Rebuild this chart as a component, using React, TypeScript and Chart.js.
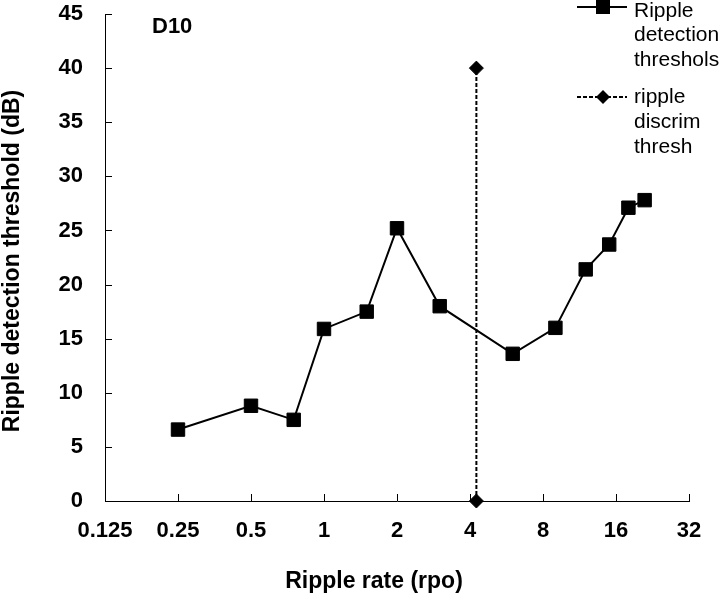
import React, { useEffect, useRef } from 'react';
import { Chart, registerables } from 'chart.js';

Chart.register(...registerables);

// ---- data ----
const rippleRates = [0.25, 0.5, 0.75, 1, 1.5, 2, 3, 6, 9, 12, 15, 18, 21];
const detectionThresholds = [6.6, 8.8, 7.5, 15.9, 17.5, 25.2, 18.0, 13.6, 16.0, 21.4, 23.7, 27.1, 27.8];
const discrimRates = [4.25, 4.25];
const discrimValues = [0, 40];
const xTickValues = [0.125, 0.25, 0.5, 1, 2, 4, 8, 16, 32];
const xTickLabels = ['0.125', '0.25', '0.5', '1', '2', '4', '8', '16', '32'];
const yTickValues = [0, 5, 10, 15, 20, 25, 30, 35, 40, 45];
const detectionLegend = ['Ripple', 'detection', 'threshols'];
const discrimLegend = ['ripple', 'discrim', 'thresh'];
const panelLabel = 'D10';
const xTitle = 'Ripple rate (rpo)';
const yTitle = 'Ripple detection threshold (dB)';

const FONT = '"Liberation Sans", Arial, sans-serif';

const decorPlugin = {
  id: 'decor',
  afterDraw(chart: any) {
    const ctx = chart.ctx as CanvasRenderingContext2D;
    const xs = chart.scales.x;
    const ys = chart.scales.y;
    const area = chart.chartArea;
    ctx.save();
    // inward tick marks
    ctx.strokeStyle = '#000';
    ctx.lineWidth = 1;
    ctx.beginPath();
    yTickValues.forEach((v) => {
      const y = Math.round(ys.getPixelForValue(v)) + 0.5;
      ctx.moveTo(area.left, y);
      ctx.lineTo(area.left + 7, y);
    });
    xTickValues.forEach((v) => {
      const x = Math.round(xs.getPixelForValue(v)) + 0.5;
      ctx.moveTo(x, area.bottom);
      ctx.lineTo(x, area.bottom - 7);
    });
    ctx.stroke();

    // panel label
    ctx.fillStyle = '#000';
    ctx.font = `bold 22px ${FONT}`;
    ctx.textAlign = 'left';
    ctx.textBaseline = 'alphabetic';
    ctx.fillText(panelLabel, 152, 33);

    // axis titles
    ctx.font = `bold 23px ${FONT}`;
    ctx.textAlign = 'center';
    ctx.fillText(xTitle, 374, 588);
    ctx.save();
    ctx.translate(19, 261);
    ctx.rotate(-Math.PI / 2);
    ctx.fillText(yTitle, 0, 0);
    ctx.restore();

    // legend
    const lx0 = 577, lx1 = 627, mx = 603, tx = 634;
    ctx.lineWidth = 2;
    ctx.setLineDash([]);
    ctx.beginPath();
    ctx.moveTo(lx0, 7);
    ctx.lineTo(lx1, 7);
    ctx.stroke();
    ctx.fillRect(mx - 7, 0, 14, 14);
    ctx.setLineDash([4, 2]);
    ctx.beginPath();
    ctx.moveTo(lx0, 97);
    ctx.lineTo(lx1, 97);
    ctx.stroke();
    ctx.setLineDash([]);
    ctx.beginPath();
    ctx.moveTo(mx - 7, 97);
    ctx.lineTo(mx, 90);
    ctx.lineTo(mx + 7, 97);
    ctx.lineTo(mx, 104);
    ctx.closePath();
    ctx.fill();

    ctx.font = `21px ${FONT}`;
    ctx.textAlign = 'left';
    detectionLegend.forEach((t, i) => ctx.fillText(t, tx, 17 + i * 24.3));
    discrimLegend.forEach((t, i) => ctx.fillText(t, tx, 103 + i * 25));
    ctx.restore();
  },
};

export default function App() {
  const ref = useRef<HTMLCanvasElement | null>(null);
  useEffect(() => {
    if (!ref.current) return;
    const chart = new Chart(ref.current, {
      type: 'scatter',
      data: {
        datasets: [
          {
            label: detectionLegend.join(' '),
            data: rippleRates.map((x, i) => ({ x, y: detectionThresholds[i] })),
            showLine: true,
            borderColor: '#000',
            backgroundColor: '#000',
            borderWidth: 2,
            pointStyle: 'rect',
            pointRadius: 9.5,
            pointBorderWidth: 1,
            clip: false,
          },
          {
            label: discrimLegend.join(' '),
            data: discrimRates.map((x, i) => ({ x, y: discrimValues[i] })),
            showLine: true,
            borderColor: '#000',
            backgroundColor: '#000',
            borderWidth: 2,
            borderDash: [4, 2],
            pointStyle: 'rectRot',
            pointRadius: 7,
            pointBorderWidth: 1,
            clip: false,
          },
        ],
      },
      options: {
        responsive: false,
        animation: false,
        events: [],
        devicePixelRatio: 1,
        layout: { padding: { left: 0, right: 31, top: 14, bottom: 0 } },
        plugins: { legend: { display: false }, tooltip: { enabled: false } },
        scales: {
          x: {
            type: 'logarithmic',
            min: 0.125,
            max: 32,
            afterBuildTicks: (s: any) => {
              s.ticks = xTickValues.map((v) => ({ value: v }));
            },
            afterFit: (s: any) => {
              s.height = 95;
              s.paddingLeft = 0;
              s.paddingRight = 0;
              s.paddingTop = 0;
              s.paddingBottom = 0;
            },
            grid: { display: false, drawTicks: false },
            border: { display: true, color: '#000', width: 1 },
            ticks: {
              autoSkip: false,
              maxRotation: 0,
              padding: 17,
              color: '#000',
              font: { family: FONT, size: 22, weight: 'bold' },
              callback: (v: any) => {
                const i = xTickValues.indexOf(Number(v));
                return i >= 0 ? xTickLabels[i] : '';
              },
            },
          },
          y: {
            type: 'linear',
            min: 0,
            max: 45,
            afterBuildTicks: (s: any) => {
              s.ticks = yTickValues.map((v) => ({ value: v }));
            },
            afterFit: (s: any) => {
              s.width = 105;
              s.paddingLeft = 0;
              s.paddingRight = 0;
              s.paddingTop = 0;
              s.paddingBottom = 0;
            },
            grid: { display: false, drawTicks: false },
            border: { display: true, color: '#000', width: 1 },
            ticks: {
              padding: 22,
              color: '#000',
              font: { family: FONT, size: 22, weight: 'bold' },
              callback: (v: any) => String(v),
            },
          },
        },
      } as any,
      plugins: [decorPlugin],
    });
    return () => chart.destroy();
  }, []);
  return (
    <div style={{ position: 'absolute', left: 0, top: 0, width: 720, height: 596, background: '#fff' }}>
      <canvas ref={ref} width={720} height={596} />
    </div>
  );
}
